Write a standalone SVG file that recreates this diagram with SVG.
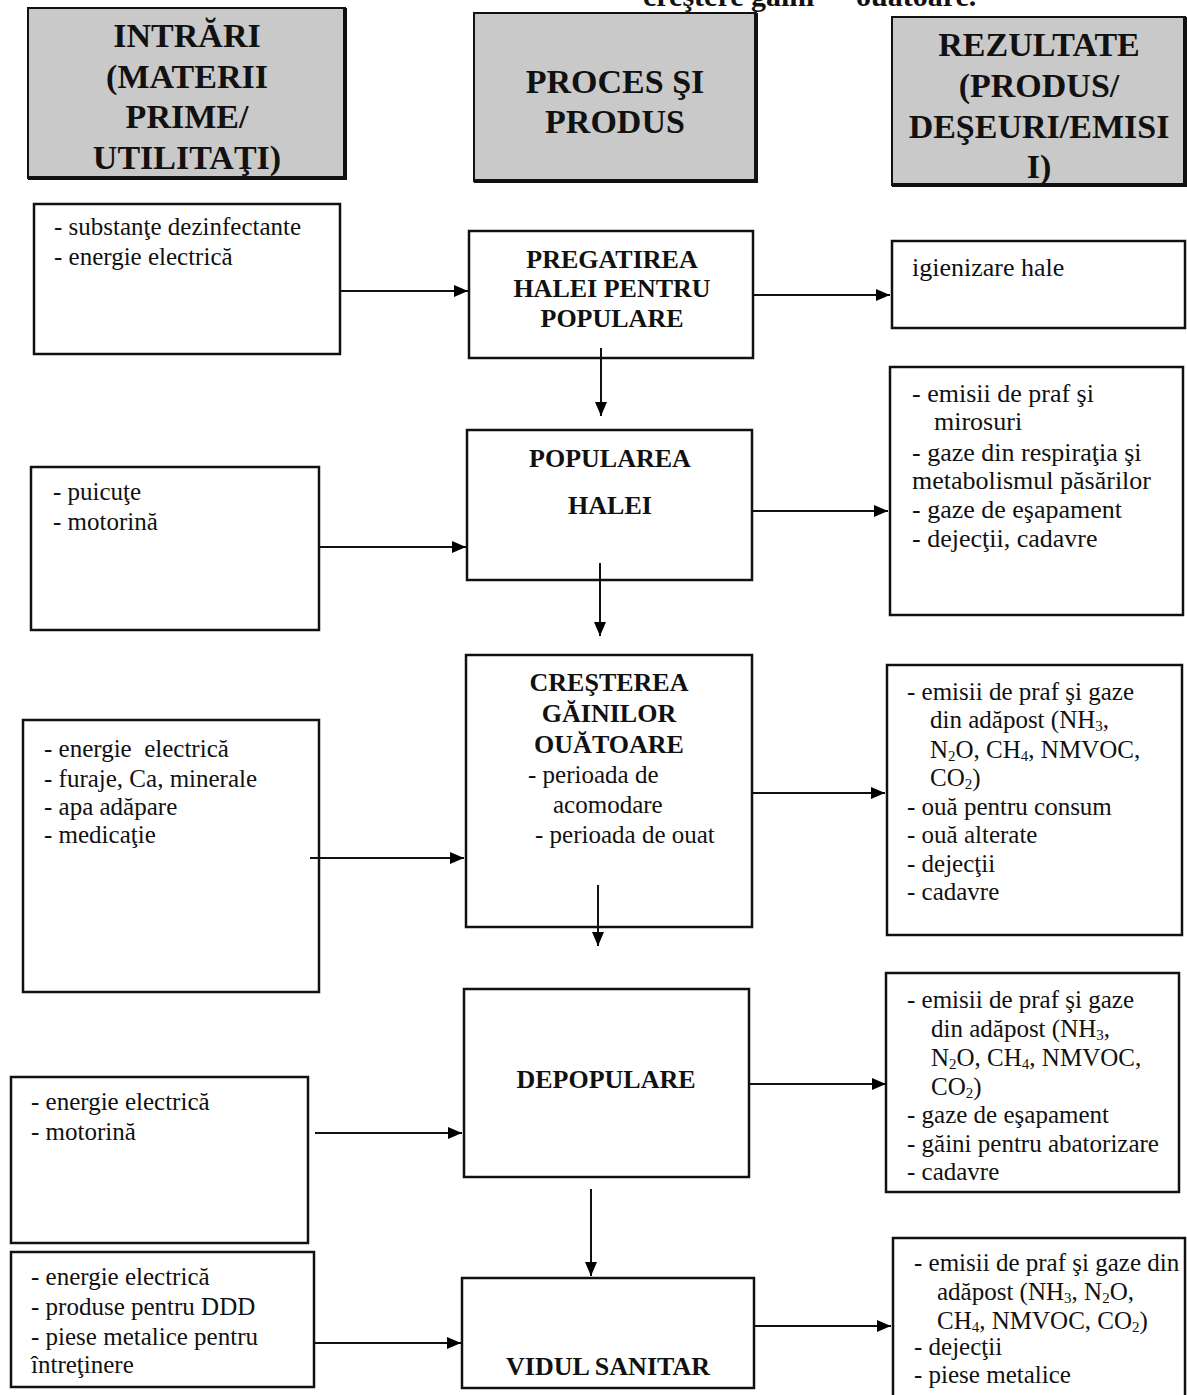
<svg xmlns="http://www.w3.org/2000/svg" width="1187" height="1395" viewBox="0 0 1187 1395">
<defs>
<marker id="ah" viewBox="0 0 14 12" refX="14" refY="6" markerWidth="14" markerHeight="12" markerUnits="userSpaceOnUse" orient="auto">
<path d="M0,0 L14,6 L0,12 z" fill="#000"/>
</marker>
</defs>
<style>
.hdr{fill:#c9c9c9;stroke:#111;stroke-width:2}
.shadow{stroke:#111;stroke-width:4;fill:none}
.box{fill:#fff;stroke:#111;stroke-width:2.5}
.ht{font-family:"Liberation Serif","Times New Roman",serif;font-weight:bold;font-size:34px;text-anchor:middle;fill:#111}
.ct{font-family:"Liberation Serif","Times New Roman",serif;font-weight:bold;font-size:26px;text-anchor:middle;fill:#111}
.t{font-family:"Liberation Serif","Times New Roman",serif;font-size:25px;fill:#111;white-space:pre}
.g{font-family:"Liberation Serif","Times New Roman",serif;font-size:26px;fill:#111;white-space:pre}
.ttl{font-family:"Liberation Serif","Times New Roman",serif;font-weight:bold;font-size:30px;fill:#111;white-space:pre}
.con{stroke:#111;stroke-width:2;fill:none;marker-end:url(#ah)}
.sub{font-size:15px}
</style>
<rect width="1187" height="1395" fill="#fff"/>

<text class="ttl" x="643" y="6">creştere găini<tspan x="856">ouătoare.</tspan></text>

<g id="hdr-intrari">
<rect class="hdr" x="28" y="8" width="317" height="170"/>
<polyline class="shadow" points="28,178 345,178 345,8"/>
<text class="ht" x="187" y="47">INTRĂRI</text>
<text class="ht" x="187" y="88">(MATERII</text>
<text class="ht" x="187" y="128">PRIME/</text>
<text class="ht" x="187" y="169">UTILITAŢI)</text>
</g>
<g id="hdr-proces">
<rect class="hdr" x="474" y="13" width="282" height="168"/>
<polyline class="shadow" points="474,181 756,181 756,13"/>
<text class="ht" x="615" y="93">PROCES ŞI</text>
<text class="ht" x="615" y="133">PRODUS</text>
</g>
<g id="hdr-rezultate">
<rect class="hdr" x="892" y="17" width="293" height="168"/>
<polyline class="shadow" points="892,185 1185,185 1185,17"/>
<text class="ht" x="1039" y="56">REZULTATE</text>
<text class="ht" x="1039" y="97">(PRODUS/</text>
<text class="ht" x="1039" y="138">DEŞEURI/EMISI</text>
<text class="ht" x="1039" y="178">I)</text>
</g>

<g id="in1">
<rect class="box" x="34" y="204" width="306" height="150"/>
<text class="t" x="54" y="235">- substanţe dezinfectante</text>
<text class="t" x="54" y="265">- energie electrică</text>
</g>
<g id="in2">
<rect class="box" x="31" y="467" width="288" height="163"/>
<text class="t" x="53" y="500">- puicuţe</text>
<text class="t" x="53" y="530">- motorină</text>
</g>
<g id="in3">
<rect class="box" x="23" y="720" width="296" height="272"/>
<text class="t" x="44" y="757">- energie  electrică</text>
<text class="t" x="44" y="787">- furaje, Ca, minerale</text>
<text class="t" x="44" y="815">- apa adăpare</text>
<text class="t" x="44" y="843">- medicaţie</text>
</g>
<g id="in4">
<rect class="box" x="11" y="1077" width="297" height="166"/>
<text class="t" x="31" y="1110">- energie electrică</text>
<text class="t" x="31" y="1140">- motorină</text>
</g>
<g id="in5">
<rect class="box" x="11" y="1252" width="303" height="135"/>
<text class="t" x="31" y="1285">- energie electrică</text>
<text class="t" x="31" y="1315">- produse pentru DDD</text>
<text class="t" x="31" y="1345">- piese metalice pentru</text>
<text class="t" x="31" y="1373">întreţinere</text>
</g>

<g id="p1">
<rect class="box" x="469" y="231" width="284" height="127"/>
<text class="ct" x="612" y="268">PREGATIREA</text>
<text class="ct" x="612" y="297">HALEI PENTRU</text>
<text class="ct" x="612" y="327">POPULARE</text>
</g>
<g id="p2">
<rect class="box" x="467" y="430" width="285" height="150"/>
<text class="ct" x="610" y="467">POPULAREA</text>
<text class="ct" x="610" y="514">HALEI</text>
</g>
<g id="p3">
<rect class="box" x="466" y="655" width="286" height="272"/>
<text class="ct" x="609" y="691">CREŞTEREA</text>
<text class="ct" x="609" y="722">GĂINILOR</text>
<text class="ct" x="609" y="753">OUĂTOARE</text>
<text class="t" x="528" y="783">- perioada de</text>
<text class="t" x="553" y="813">acomodare</text>
<text class="t" x="535" y="843">- perioada de ouat</text>
</g>
<g id="p4">
<rect class="box" x="464" y="989" width="285" height="188"/>
<text class="ct" x="606" y="1088">DEPOPULARE</text>
</g>
<g id="p5">
<rect class="box" x="462" y="1278" width="292" height="110"/>
<text class="ct" x="608" y="1375">VIDUL SANITAR</text>
</g>

<g id="out1">
<rect class="box" x="892" y="241" width="293" height="87"/>
<text class="g" x="912" y="276">igienizare hale</text>
</g>
<g id="out2">
<rect class="box" x="890" y="367" width="293" height="248"/>
<text class="g" x="912" y="402">- emisii de praf şi</text>
<text class="g" x="934" y="430">mirosuri</text>
<text class="g" x="912" y="461">- gaze din respiraţia şi</text>
<text class="g" x="912" y="489">metabolismul păsărilor</text>
<text class="g" x="912" y="518">- gaze de eşapament</text>
<text class="g" x="912" y="547">- dejecţii, cadavre</text>
</g>
<g id="out3">
<rect class="box" x="887" y="665" width="295" height="270"/>
<text class="t" x="907" y="700">- emisii de praf şi gaze</text>
<text class="t" x="930" y="728">din adăpost (NH<tspan class="sub" dy="3">3</tspan><tspan dy="-3">,</tspan></text>
<text class="t" x="930" y="758">N<tspan class="sub" dy="3">2</tspan><tspan dy="-3">O, CH</tspan><tspan class="sub" dy="3">4</tspan><tspan dy="-3">, NMVOC,</tspan></text>
<text class="t" x="930" y="786">CO<tspan class="sub" dy="3">2</tspan><tspan dy="-3">)</tspan></text>
<text class="t" x="907" y="815">- ouă pentru consum</text>
<text class="t" x="907" y="843">- ouă alterate</text>
<text class="t" x="907" y="872">- dejecţii</text>
<text class="t" x="907" y="900">- cadavre</text>
</g>
<g id="out4">
<rect class="box" x="886" y="973" width="293" height="219"/>
<text class="t" x="907" y="1008">- emisii de praf şi gaze</text>
<text class="t" x="931" y="1037">din adăpost (NH<tspan class="sub" dy="3">3</tspan><tspan dy="-3">,</tspan></text>
<text class="t" x="931" y="1066">N<tspan class="sub" dy="3">2</tspan><tspan dy="-3">O, CH</tspan><tspan class="sub" dy="3">4</tspan><tspan dy="-3">, NMVOC,</tspan></text>
<text class="t" x="931" y="1095">CO<tspan class="sub" dy="3">2</tspan><tspan dy="-3">)</tspan></text>
<text class="t" x="907" y="1123">- gaze de eşapament</text>
<text class="t" x="907" y="1152">- găini pentru abatorizare</text>
<text class="t" x="907" y="1180">- cadavre</text>
</g>
<g id="out5">
<rect class="box" x="893" y="1238" width="292" height="170"/>
<text class="t" x="914" y="1271">- emisii de praf şi gaze din</text>
<text class="t" x="937" y="1300">adăpost (NH<tspan class="sub" dy="3">3</tspan><tspan dy="-3">, N</tspan><tspan class="sub" dy="3">2</tspan><tspan dy="-3">O,</tspan></text>
<text class="t" x="937" y="1329">CH<tspan class="sub" dy="3">4</tspan><tspan dy="-3">, NMVOC, CO</tspan><tspan class="sub" dy="3">2</tspan><tspan dy="-3">)</tspan></text>
<text class="t" x="914" y="1355">- dejecţii</text>
<text class="t" x="914" y="1383">- piese metalice</text>
</g>

<g id="connectors">
<line class="con" x1="340" y1="291" x2="468" y2="291"/>
<line class="con" x1="753" y1="295" x2="890" y2="295"/>
<line class="con" x1="601" y1="348" x2="601" y2="416"/>
<line class="con" x1="319" y1="547" x2="466" y2="547"/>
<line class="con" x1="752" y1="511" x2="888" y2="511"/>
<line class="con" x1="600" y1="563" x2="600" y2="636"/>
<line class="con" x1="310" y1="858" x2="464" y2="858"/>
<line class="con" x1="752" y1="793" x2="885" y2="793"/>
<line class="con" x1="598" y1="885" x2="598" y2="946"/>
<line class="con" x1="315" y1="1133" x2="462" y2="1133"/>
<line class="con" x1="749" y1="1084" x2="886" y2="1084"/>
<line class="con" x1="591" y1="1189" x2="591" y2="1276"/>
<line class="con" x1="314" y1="1343" x2="461" y2="1343"/>
<line class="con" x1="754" y1="1326" x2="891" y2="1326"/>
</g>
</svg>
